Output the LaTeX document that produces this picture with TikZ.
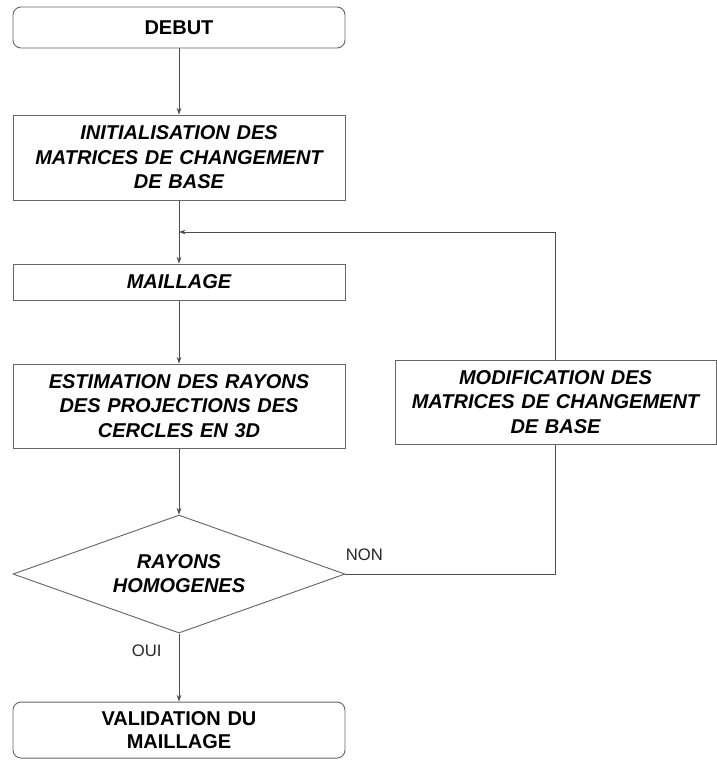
\documentclass[tikz,border=0pt]{standalone}
\usepackage{fontspec}
\setmainfont{Liberation Sans}
\usetikzlibrary{positioning,shapes.geometric,arrows.meta,calc}

\tikzset{
  box/.style={rectangle, draw=black!60, line width=0.7pt, minimum width=249pt,
    text width=245pt, align=center, inner sep=0pt,
    font=\fontsize{15}{18.4}\selectfont\bfseries\itshape},
  terminal/.style={box, rounded corners=6pt, font=\fontsize{15}{17.4}\selectfont\bfseries},
  decision/.style={diamond, draw=black!60, line width=0.7pt, aspect=2.81,
    minimum width=249pt, minimum height=88.5pt, inner sep=0pt, align=center,
    font=\fontsize{15}{18}\selectfont\bfseries\itshape},
  answer/.style={font=\fontsize{12.5}{14}\selectfont, text=black!85, inner sep=0pt},
  link/.style={draw=black!70, line width=0.6pt}
}

\begin{document}
\begin{tikzpicture}[node distance=93pt,on grid,>={Stealth[length=5pt,width=3.5pt]}]
    \useasboundingbox (0,0) rectangle (537.75pt,-570pt);

    \node[terminal, minimum height=30.75pt] (debut) at (134.25pt,-20.625pt) {DEBUT};
    \node[box, minimum height=63.75pt] (init) [below=97.5pt of debut]
        {INITIALISATION DES\\MATRICES DE CHANGEMENT\\DE BASE};
    \node[box, minimum height=27pt] (maill) [below=93.4pt of init] {MAILLAGE};
    \node[box, minimum height=63pt] (estim) [below=93pt of maill]
        {ESTIMATION DES RAYONS\\DES PROJECTIONS DES\\CERCLES EN 3D};
    \node[decision] (homog) [below=126pt of estim] {RAYONS\\HOMOGENES};
    \node[terminal, minimum height=42pt] (valid) [below=117pt of homog]
        {VALIDATION DU\\MAILLAGE};
    \node[box, minimum width=240.75pt, text width=238pt, minimum height=63pt] (modif)
        [above right=3pt and 282.4pt of estim]
        {MODIFICATION DES\\MATRICES DE CHANGEMENT\\DE BASE};

    \coordinate (join) at ($(init.south)!0.5!(maill.north)$);

    \path[link,->] (debut) edge (init);
    \path[link,->] (init) edge (maill);
    \path[link,->] (maill) edge (estim);
    \path[link,->] (estim) edge (homog);
    \path[link,->] (homog) edge node[answer, pos=0.25, anchor=east, xshift=-12.75pt] {OUI} (valid);
    \draw[link] (homog.east) node[answer, anchor=south west, yshift=9.75pt] {NON} -| (modif.south);
    \draw[link,->] (modif.north) |- (join);
\end{tikzpicture}
\end{document}
